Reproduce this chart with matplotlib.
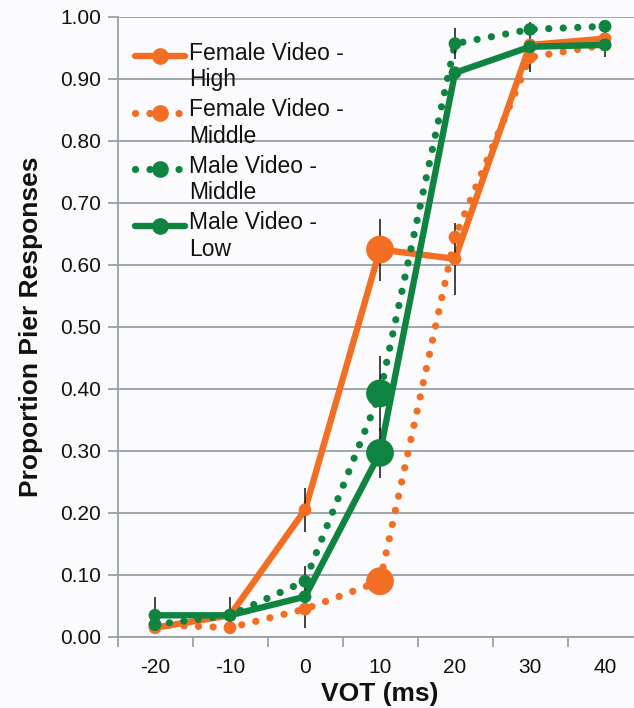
import numpy as np
import matplotlib
matplotlib.use("Agg")
import matplotlib.pyplot as plt
from matplotlib.legend_handler import HandlerLine2D
from matplotlib.lines import Line2D

# VOT continuum steps (ms) and proportion of "pier" responses per condition
vot = [-20, -10, 0, 10, 20, 30, 40]
tick_labels = ["-20", "-10", "0", "10", "20", "30", "40"]

female_high = [0.015, 0.035, 0.205, 0.625, 0.610, 0.955, 0.965]
female_middle = [0.020, 0.015, 0.045, 0.090, 0.645, 0.935, 0.955]
male_middle = [0.020, 0.035, 0.090, 0.393, 0.957, 0.980, 0.985]
male_low = [0.035, 0.035, 0.065, 0.297, 0.910, 0.952, 0.955]

# standard errors (0 = no bar shown)
female_high_err = [0.0, 0.0, 0.035, 0.050, 0.058, 0.0, 0.0]
female_middle_err = [0.0, 0.0, 0.0, 0.0, 0.0, 0.0, 0.0]
male_middle_err = [0.0, 0.0, 0.0, 0.060, 0.025, 0.0, 0.0]
male_low_err = [0.030, 0.030, 0.050, 0.040, 0.0, 0.040, 0.020]

labels = ["Female Video -\nHigh", "Female Video -\nMiddle",
          "Male Video -\nMiddle", "Male Video -\nLow"]

ORANGE = "#F26E22"
GREEN = "#0F8440"
GRID = "#98A1A8"
BG = "#FBFBFD"

plt.rcParams["font.family"] = ["Liberation Sans", "DejaVu Sans"]

fig = plt.figure(figsize=(6.34, 7.08), dpi=100, facecolor=BG)
ax = fig.add_axes([117.5 / 634, 71 / 708, 525 / 634, 620 / 708])
ax.set_facecolor(BG)

xpos = np.arange(len(vot))
dotted = (0, (0.01, 2.0))
series = [
    (female_high, female_high_err, ORANGE, "-"),
    (female_middle, female_middle_err, ORANGE, dotted),
    (male_middle, male_middle_err, GREEN, dotted),
    (male_low, male_low_err, GREEN, "-"),
]

sizes = [400 if v == 10 else 85 for v in vot]
handles = []
for i, (vals, errs, col, ls) in enumerate(series):
    lw = 4.6 if ls == "-" else 5.2
    ax.plot(xpos, vals, color=col, lw=lw, ls=ls, dash_capstyle="round",
            solid_capstyle="round", solid_joinstyle="round", zorder=3 + i * 0.1)
    e = np.asarray(errs)
    m = e > 0
    ax.errorbar(xpos[m], np.asarray(vals)[m], yerr=e[m], fmt="none",
                ecolor="#111111", elinewidth=1.1, capsize=0, zorder=4)
    ax.scatter(xpos, vals, s=sizes, color=col, edgecolors="none",
               zorder=5 + i * 0.1)
    handles.append(Line2D([0, 1], [0, 0], color=col, lw=lw, ls=ls,
                          dash_capstyle="round", solid_capstyle="round",
                          marker="o", markersize=11))


class RaisedLineHandler(HandlerLine2D):
    """Line handle aligned with the first line of a two-line label."""

    def __init__(self, dy, **kw):
        super().__init__(**kw)
        self.dy = dy

    def create_artists(self, legend, orig_handle, xdescent, ydescent, width,
                       height, fontsize, trans):
        arts = super().create_artists(legend, orig_handle, xdescent, ydescent,
                                      width, height, fontsize, trans)
        for a in arts:
            a.set_ydata(np.asarray(a.get_ydata(), dtype=float) + self.dy)
        return arts


leg = ax.legend(handles, labels, loc="upper left",
                bbox_to_anchor=(0.033, 0.96), frameon=False, fontsize=16.5,
                handlelength=2.2, handletextpad=0.15, labelspacing=0.3,
                borderpad=0, borderaxespad=0,
                handler_map={h: RaisedLineHandler(8, numpoints=1) for h in handles})
for t in leg.get_texts():
    t.set_linespacing(1.2)
    t.set_color("#111111")

ax.set_xlim(-0.5, len(vot) - 0.5)
ax.set_ylim(0, 1.0)
ax.set_yticks(np.arange(0, 1.01, 0.1))
ax.set_yticklabels([f"{v:.2f}" for v in np.arange(0, 1.01, 0.1)])
ax.yaxis.grid(True, color=GRID, lw=1.3)
ax.set_axisbelow(True)

ax.set_xticks(np.arange(-0.5, len(vot), 1.0))
ax.set_xticklabels([])
ax.set_xticks(xpos, minor=True)
ax.set_xticklabels(tick_labels, minor=True)
ax.tick_params(axis="x", which="major", length=7, width=1.3, color=GRID,
               direction="out")
ax.tick_params(axis="x", which="minor", length=0, pad=15, labelsize=15,
               labelcolor="#111111")
ax.tick_params(axis="y", length=7, width=1.3, color=GRID, pad=5,
               labelsize=15, labelcolor="#111111")

for s in ("top", "right"):
    ax.spines[s].set_visible(False)
for s in ("left", "bottom"):
    ax.spines[s].set_color(GRID)
    ax.spines[s].set_linewidth(1.3)

ax.set_xlabel("VOT (ms)", fontsize=19, fontweight="bold", labelpad=4,
              color="#111111")
ax.set_ylabel("Proportion Pier Responses", fontsize=19, fontweight="bold",
              labelpad=12, color="#111111")

fig.savefig("out.png", dpi=100, facecolor=BG)
